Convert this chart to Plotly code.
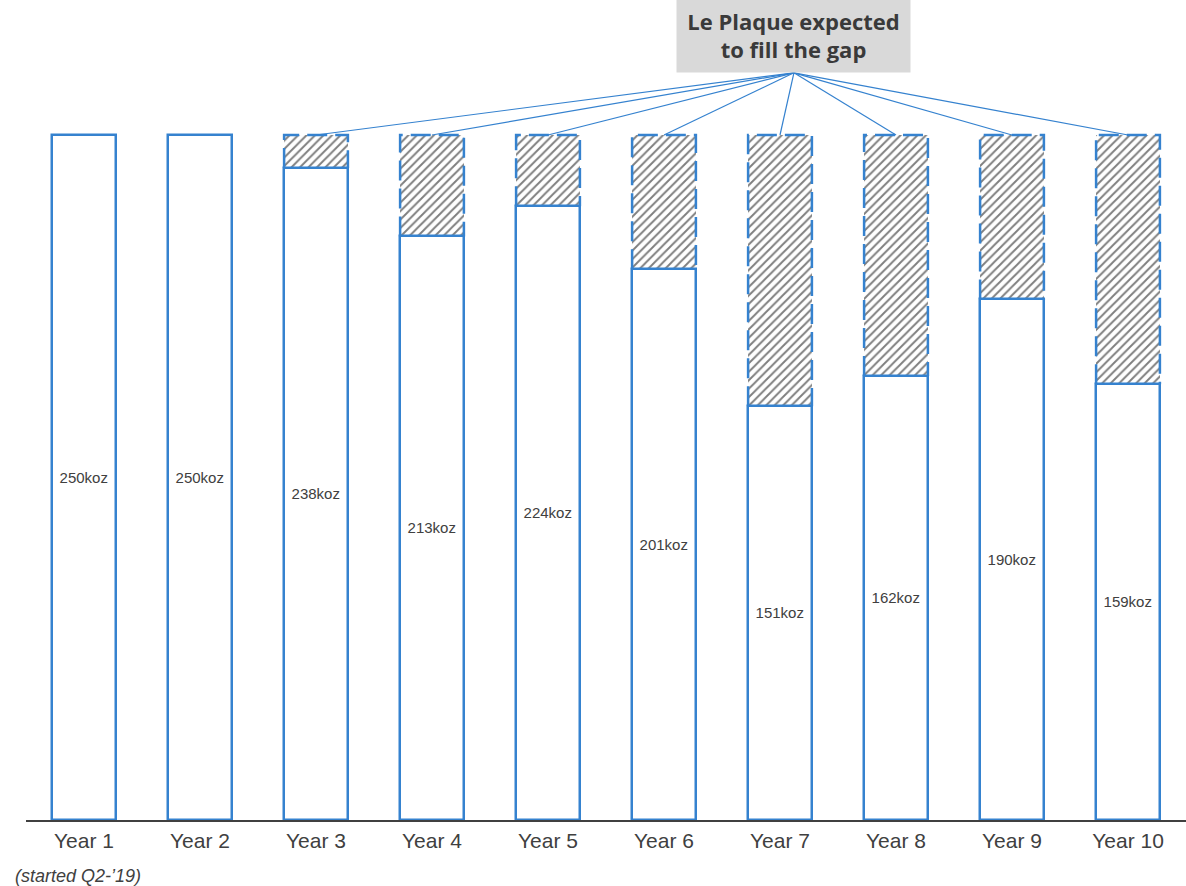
import plotly.graph_objects as go

years = ["Year 1", "Year 2", "Year 3", "Year 4", "Year 5",
         "Year 6", "Year 7", "Year 8", "Year 9", "Year 10"]
production = [250, 250, 238, 213, 224, 201, 151, 162, 190, 159]
target = 250
value_labels = [f"{v}koz" for v in production]

BLUE = "#3582cf"
TEXT = "#404040"
BAR_W = 0.55

x = list(range(len(years)))
gap = [target - v for v in production]

fig = go.Figure()

# hatched gap up to the target level
fig.add_trace(go.Bar(
    x=x, y=gap, base=production, width=BAR_W,
    marker=dict(color="white", line=dict(width=0),
                pattern=dict(shape="/", fgcolor="#000000", bgcolor="white",
                             size=6, solidity=0.32)),
    hoverinfo="skip", showlegend=False,
))

# production bars
fig.add_trace(go.Bar(
    x=x, y=production, width=BAR_W,
    marker=dict(color="white", line=dict(color=BLUE, width=2.5)),
    text=value_labels, textposition="inside", insidetextanchor="middle",
    textfont=dict(family="Liberation Sans, Arial", size=15, color=TEXT),
    hoverinfo="skip", showlegend=False,
))

# dashed outlines around the gap segments
for xi, lo, g in zip(x, production, gap):
    if g <= 0:
        continue
    x0, x1 = xi - BAR_W / 2, xi + BAR_W / 2
    fig.add_trace(go.Scatter(
        x=[x0, x0, x1, x1], y=[lo, target, target, lo], mode="lines",
        line=dict(color=BLUE, width=2.5, dash="20px,8px"),
        hoverinfo="skip", showlegend=False, cliponaxis=False,
    ))

# callout connectors from the label box to each gap segment
box_x = 6.12
box_bottom = 272.7
for xi, g in zip(x, gap):
    if g <= 0:
        continue
    fig.add_trace(go.Scatter(
        x=[box_x, xi], y=[box_bottom, target], mode="lines",
        line=dict(color=BLUE, width=1.2),
        hoverinfo="skip", showlegend=False, cliponaxis=False,
    ))

fig.add_annotation(
    x=box_x, y=box_bottom, xref="x", yref="y",
    xanchor="center", yanchor="bottom",
    text="<b>Le Plaque expected<br>to fill the gap</b>",
    showarrow=False, align="center",
    font=dict(family="Open Sans", size=22, color="#3a3a3a"),
    bgcolor="#d9d9d9", borderpad=2, width=229, height=70,
)

fig.add_annotation(
    x=0, y=0, xref="paper", yref="paper", xshift=-13, yshift=-44,
    xanchor="left", yanchor="top",
    text="<i>(started Q2-’19)</i>", showarrow=False,
    font=dict(family="Liberation Sans, Arial", size=18, color=TEXT),
)

fig.update_layout(
    width=1186, height=886,
    margin=dict(l=26, r=0, t=0, b=66),
    plot_bgcolor="white", paper_bgcolor="white",
    barmode="overlay", bargap=0,
    xaxis=dict(
        range=[-0.5, 9.5], tickmode="array", tickvals=x, ticktext=years,
        showgrid=False, zeroline=False, showline=True, linecolor=TEXT,
        linewidth=1.5, ticks="", ticklabelstandoff=1,
        tickfont=dict(family="Liberation Sans, Arial", size=21, color=TEXT),
    ),
    yaxis=dict(range=[0, 820 / 2.74], visible=False, showgrid=False),
)

fig.write_html("out.html")
